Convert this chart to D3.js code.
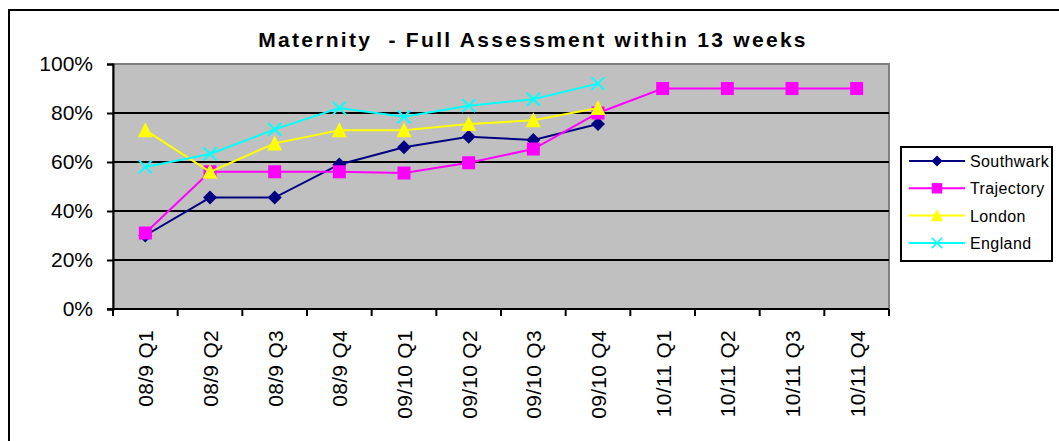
<!DOCTYPE html>
<html>
<head>
<meta charset="utf-8">
<script src="https://cdn.jsdelivr.net/npm/d3@7"></script>
<style>
  body { margin: 0; background: #fff; }
  text { font-family: "Liberation Sans", Arial, sans-serif; fill: #000; }
</style>
</head>
<body>
<script>
// quarters on the x axis
const quarters = ["08/9 Q1", "08/9 Q2", "08/9 Q3", "08/9 Q4",
    "09/10 Q1", "09/10 Q2", "09/10 Q3", "09/10 Q4",
    "10/11 Q1", "10/11 Q2", "10/11 Q3", "10/11 Q4"];

// values in percent, null where there is no data
const southwark = [30, 45.5, 45.5, 59, 66, 70.3, 69, 75.5, null, null, null, null];
const trajectory = [31, 56, 56, 56, 55.5, 59.7, 65.3, 80, 90, 90, 90, 90];
const london = [73, 56, 67.6, 73, 73, 75.5, 77, 82, null, null, null, null];
const england = [58, 63.3, 73.3, 82, 78.5, 83, 85.6, 92, null, null, null, null];

const yTicks = [0, 20, 40, 60, 80, 100];

const series = [
    { name: "Southwark", values: southwark, color: "#000080", symbol: "diamond" },
    { name: "Trajectory", values: trajectory, color: "#FF00FF", symbol: "square" },
    { name: "London", values: london, color: "#FFFF00", symbol: "triangle" },
    { name: "England", values: england, color: "#00FFFF", symbol: "cross" }
];

const width = 1059, height = 441;
const plot = { left: 113, right: 889, top: 64, bottom: 309 };

const svg = d3.select("body").append("svg")
    .attr("width", width)
    .attr("height", height);

// outer chart border (cropped on the right and bottom)
svg.append("path")
    .attr("d", "M9,441 V10 H1059")
    .attr("fill", "none")
    .attr("stroke", "#000")
    .attr("stroke-width", 2);

// title
svg.append("text")
    .attr("x", 533)
    .attr("y", 47)
    .attr("text-anchor", "middle")
    .attr("font-size", 21)
    .attr("font-weight", "bold")
    .attr("letter-spacing", 2.3)
    .attr("xml:space", "preserve")
    .text("Maternity  - Full Assessment within 13 weeks");

const x = d3.scaleBand()
    .domain(quarters)
    .range([plot.left, plot.right]);

const y = d3.scaleLinear()
    .domain([0, 100])
    .range([plot.bottom, plot.top]);

// plot background
svg.append("rect")
    .attr("x", plot.left)
    .attr("y", plot.top)
    .attr("width", plot.right - plot.left)
    .attr("height", plot.bottom - plot.top)
    .attr("fill", "#C0C0C0")
    .attr("stroke", "#808080")
    .attr("stroke-width", 2);

// gridlines
svg.append("g")
    .selectAll("line")
    .data(yTicks.filter(d => d > 0 && d < 100))
    .enter()
    .append("line")
    .attr("x1", plot.left)
    .attr("x2", plot.right)
    .attr("y1", d => y(d))
    .attr("y2", d => y(d))
    .attr("stroke", "#000")
    .attr("stroke-width", 2);

// y axis
const yAxis = svg.append("g")
    .attr("transform", "translate(" + plot.left + ",0)")
    .call(d3.axisLeft(y).tickValues(yTicks).tickFormat(d => d + "%").tickSize(6).tickPadding(14));
yAxis.select(".domain").attr("stroke", "#000").attr("stroke-width", 2);
yAxis.selectAll(".tick line").attr("stroke", "#000").attr("stroke-width", 2);
yAxis.selectAll(".tick text")
    .attr("font-size", 21)
    .attr("font-family", "Liberation Sans, Arial, sans-serif")
    .attr("fill", "#000");

// x axis with ticks on band edges
const xAxisG = svg.append("g");
xAxisG.append("line")
    .attr("x1", plot.left - 6)
    .attr("x2", plot.right)
    .attr("y1", plot.bottom)
    .attr("y2", plot.bottom)
    .attr("stroke", "#000")
    .attr("stroke-width", 2);
const edges = quarters.map(q => x(q)).concat([plot.right]);
xAxisG.selectAll("line.tk")
    .data(edges)
    .enter()
    .append("line")
    .attr("class", "tk")
    .attr("x1", d => d)
    .attr("x2", d => d)
    .attr("y1", plot.bottom)
    .attr("y2", plot.bottom + 7)
    .attr("stroke", "#000")
    .attr("stroke-width", 2);
xAxisG.selectAll("text")
    .data(quarters)
    .enter()
    .append("text")
    .attr("transform", d => "translate(" + (x(d) + x.bandwidth() / 2 + 8) + "," + (plot.bottom + 21) + ") rotate(-90)")
    .attr("text-anchor", "end")
    .attr("font-size", 21)
    .attr("letter-spacing", 0.3)
    .text(d => d);

const cx = d => x(d) + x.bandwidth() / 2;

const line = d3.line()
    .defined(d => d.v !== null)
    .x(d => cx(d.q))
    .y(d => y(d.v));

function marker(g, s) {
    if (s.symbol === "diamond") {
        g.append("path").attr("d", "M0,-7 L7,0 L0,7 L-7,0 Z").attr("fill", s.color);
    } else if (s.symbol === "square") {
        g.append("rect").attr("x", -6.5).attr("y", -6.5).attr("width", 13).attr("height", 13).attr("fill", s.color);
    } else if (s.symbol === "triangle") {
        g.append("path").attr("d", "M0,-8 L7.5,7 L-7.5,7 Z").attr("fill", s.color);
    } else {
        g.append("path").attr("d", "M-6.5,-6.5 L6.5,6.5 M-6.5,6.5 L6.5,-6.5").attr("stroke", s.color).attr("stroke-width", 2);
    }
}

series.forEach(s => {
    const pts = quarters.map((q, i) => ({ q: q, v: s.values[i] }));
    svg.append("path")
        .datum(pts)
        .attr("d", line)
        .attr("fill", "none")
        .attr("stroke", s.color)
        .attr("stroke-width", 2);
    svg.append("g")
        .selectAll("g")
        .data(pts.filter(d => d.v !== null))
        .enter()
        .append("g")
        .attr("transform", d => "translate(" + cx(d.q) + "," + y(d.v) + ")")
        .each(function () { marker(d3.select(this), s); });
});

// legend
const legend = svg.append("g");
legend.append("rect")
    .attr("x", 901)
    .attr("y", 147)
    .attr("width", 151)
    .attr("height", 114)
    .attr("fill", "#fff")
    .attr("stroke", "#000")
    .attr("stroke-width", 2);

const item = legend.selectAll("g.item")
    .data(series)
    .enter()
    .append("g")
    .attr("class", "item")
    .attr("transform", (d, i) => "translate(0," + (161 + i * 27.3) + ")");
item.append("line")
    .attr("x1", 909)
    .attr("x2", 965)
    .attr("stroke", d => d.color)
    .attr("stroke-width", 2);
item.append("g")
    .attr("transform", "translate(937,0) scale(0.8)")
    .each(function (d) { marker(d3.select(this), d); });
item.append("text")
    .attr("x", 970)
    .attr("y", 6)
    .attr("font-size", 16)
    .attr("letter-spacing", 0.4)
    .text(d => d.name);
</script>
</body>
</html>
